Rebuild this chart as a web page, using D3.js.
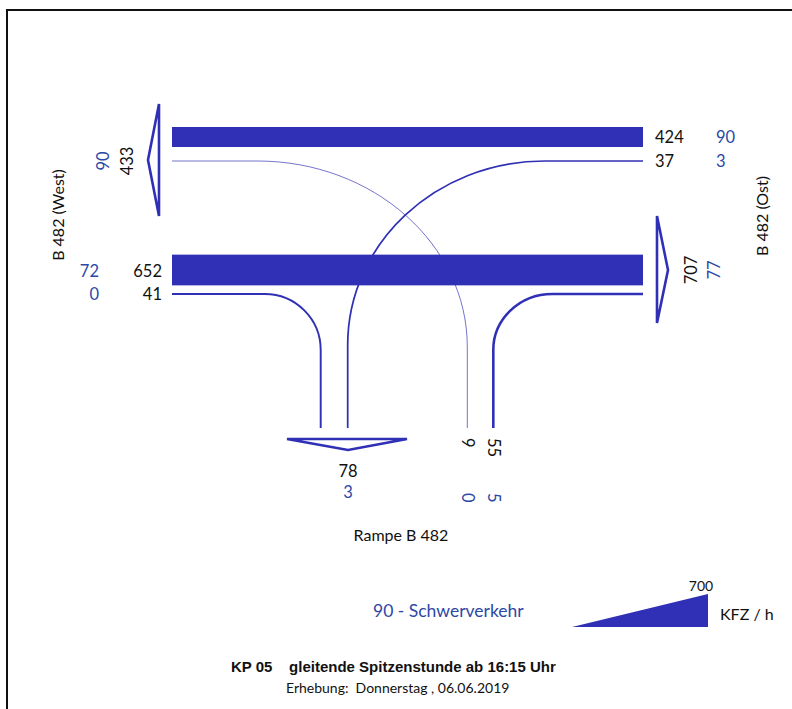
<!DOCTYPE html>
<html>
<head>
<meta charset="utf-8">
<script src="https://cdn.jsdelivr.net/npm/d3@7"></script>
<style>
  html, body { margin: 0; padding: 0; background: #fff; }
  svg { display: block; }
</style>
</head>
<body>
<div id="chart"></div>
<script>
// Knotenpunkt KP 05 – Verkehrsströme (Kfz/h) der gleitenden Spitzenstunde
const movements = ["Ost → West", "Ost → Rampe", "West → Ost", "West → Rampe", "Rampe → West", "Rampe → Ost"];
const movementKfz = [424, 37, 652, 41, 9, 55];
const movementSv  = [90, 3, 72, 0, 0, 5];

const exits    = ["B 482 (West)", "B 482 (Ost)", "Rampe B 482"];
const exitKfz  = [433, 707, 78];
const exitSv   = [90, 77, 3];

const legendValue = 700;
const legendUnit  = "KFZ / h";
const legendSvText = "90 - Schwerverkehr";
const titleText = "KP 05    gleitende Spitzenstunde ab 16:15 Uhr";
const subtitleText = "Erhebung:  Donnerstag , 06.06.2019";

const W = 792, H = 709;
const BLUE = "#3030b6";
const SVBLUE = "#2c48a6";
const BLACK = "#111";
const FONT = "Lato, 'Open Sans', sans-serif";

const svg = d3.select("#chart").append("svg")
  .attr("width", W).attr("height", H)
  .attr("font-family", FONT);

// frame
svg.append("rect")
  .attr("x", 7).attr("y", 10).attr("width", 820).attr("height", 740)
  .attr("fill", "none").attr("stroke", "#111").attr("stroke-width", 2);

// band thickness per vehicle
const thick = d3.scaleLinear().domain([0, legendValue]).range([0, 33]);

// road geometry
const xWest = 172, xEast = 643;
const yTopLane = 137, yTopTurn = 161;
const yBotLane = 270, yBotTurn = 294;
const yRampEnd = 428;
const xRamp = { "West → Rampe": 320.7, "Ost → Rampe": 347.7, "Rampe → West": 467.3, "Rampe → Ost": 493.3 };

// straight-through bands
const through = [
  { i: 0, yc: yTopLane },
  { i: 2, yc: yBotLane }
];

// turning streams: start, corner, end and corner radii
const turns = [
  { i: 1, p0: [xEast, yTopTurn], pc: [xRamp["Ost → Rampe"], yTopTurn], p1: [xRamp["Ost → Rampe"], yRampEnd], r0: 197, r1: 184 },
  { i: 3, p0: [xWest, yBotTurn], pc: [xRamp["West → Rampe"], yBotTurn], p1: [xRamp["West → Rampe"], yRampEnd], r0: 56, r1: 56 },
  { i: 4, p0: [xRamp["Rampe → West"], yRampEnd], pc: [xRamp["Rampe → West"], yTopTurn], p1: [xWest, yTopTurn], r0: 186, r1: 210 },
  { i: 5, p0: [xRamp["Rampe → Ost"], yRampEnd], pc: [xRamp["Rampe → Ost"], yBotTurn], p1: [xEast, yBotTurn], r0: 56, r1: 59 }
];

function toward(a, b, d) {
  const dx = b[0] - a[0], dy = b[1] - a[1];
  const L = Math.hypot(dx, dy);
  return [a[0] + dx / L * d, a[1] + dy / L * d];
}

function turnPath(t) {
  const k = 0.5523;
  const a = toward(t.pc, t.p0, t.r0);
  const b = toward(t.pc, t.p1, t.r1);
  const c1 = toward(a, t.pc, t.r0 * k);
  const c2 = toward(b, t.pc, t.r1 * k);
  const p = d3.path();
  p.moveTo(t.p0[0], t.p0[1]);
  p.lineTo(a[0], a[1]);
  p.bezierCurveTo(c1[0], c1[1], c2[0], c2[1], b[0], b[1]);
  p.lineTo(t.p1[0], t.p1[1]);
  return p.toString();
}

const g = svg.append("g");

g.selectAll("path.turn").data(turns).join("path")
  .attr("class", "turn")
  .attr("d", turnPath)
  .attr("fill", "none")
  .attr("stroke", BLUE)
  .attr("stroke-width", d => Math.max(thick(movementKfz[d.i]), 0.9))
  .attr("stroke-opacity", d => movementKfz[d.i] < 20 ? 0.75 : 1);

g.selectAll("rect.through").data(through).join("rect")
  .attr("class", "through")
  .attr("x", xWest)
  .attr("width", xEast - xWest)
  .attr("y", d => d.yc - thick(movementKfz[d.i]) / 2)
  .attr("height", d => thick(movementKfz[d.i]))
  .attr("fill", BLUE);

// exit arrows (outlined triangles)
const arrows = [
  { pts: [[159, 104], [148, 160], [159, 216]] },
  { pts: [[657, 216], [668, 270], [657, 323]] },
  { pts: [[287, 439], [348, 450], [407, 439]] }
];
svg.selectAll("path.arrow").data(arrows).join("path")
  .attr("class", "arrow")
  .attr("d", d => d3.line()(d.pts) + "Z")
  .attr("fill", "none")
  .attr("stroke", BLUE)
  .attr("stroke-width", 2.6)
  .attr("stroke-linejoin", "miter");

// labels
function label(x, y, txt, opts = {}) {
  const t = svg.append("text")
    .attr("x", x).attr("y", y)
    .attr("fill", opts.fill || BLACK)
    .attr("font-size", opts.size || 16.5)
    .attr("text-anchor", opts.anchor || "start")
    .text(txt);
  if (opts.rot) t.attr("transform", `rotate(${opts.rot},${x},${y})`);
  if (opts.dy) t.attr("dy", opts.dy);
  if (opts.weight) t.attr("font-weight", opts.weight);
  if (opts.family) t.attr("font-family", opts.family);
  return t;
}

// east approach
label(655, 143, movementKfz[0]);
label(716, 143, movementSv[0], { fill: SVBLUE });
label(655, 167, movementKfz[1]);
label(716, 167, movementSv[1], { fill: SVBLUE });

// west approach
label(162, 277, movementKfz[2], { anchor: "end" });
label(99, 277, movementSv[2], { anchor: "end", fill: SVBLUE });
label(162, 300, movementKfz[3], { anchor: "end" });
label(99, 300, movementSv[3], { anchor: "end", fill: SVBLUE });

// ramp approach (rotated)
label(xRamp["Rampe → West"], 438, movementKfz[4], { rot: 90, dy: "0.35em" });
label(xRamp["Rampe → Ost"], 438, movementKfz[5], { rot: 90, dy: "0.35em" });
label(xRamp["Rampe → West"], 493, movementSv[4], { rot: 90, dy: "0.35em", fill: SVBLUE });
label(xRamp["Rampe → Ost"], 493, movementSv[5], { rot: 90, dy: "0.35em", fill: SVBLUE });

// exits
label(127, 161, exitKfz[0], { rot: -90, anchor: "middle", dy: "0.35em" });
label(103, 161, exitSv[0], { rot: -90, anchor: "middle", dy: "0.35em", fill: SVBLUE });
label(691, 270, exitKfz[1], { rot: -90, anchor: "middle", dy: "0.35em" });
label(714, 270, exitSv[1], { rot: -90, anchor: "middle", dy: "0.35em", fill: SVBLUE });
label(348, 477, exitKfz[2], { anchor: "middle" });
label(348, 498, exitSv[2], { anchor: "middle", fill: SVBLUE });

// arm names
label(58, 215, exits[0], { rot: -90, anchor: "middle", dy: "0.35em", size: 16 });
label(762, 216, exits[1], { rot: -90, anchor: "middle", dy: "0.35em", size: 16 });
label(401, 541, exits[2], { anchor: "middle", size: 16 });

// legend wedge
const lx0 = 572, lx1 = 708, ly = 627;
svg.append("path")
  .attr("d", d3.line()([[lx0, ly], [lx1, ly], [lx1, ly - thick(legendValue)]]) + "Z")
  .attr("fill", BLUE);
label(701, 591, legendValue, { anchor: "middle", size: 14 });
label(720, 620, legendUnit, { size: 16 });
label(373, 617, legendSvText, { fill: SVBLUE, size: 17.5 });

// title
label(231, 672, titleText, { size: 15, weight: "bold", family: "'Liberation Sans', Arial, sans-serif" })
  .attr("xml:space", "preserve").style("white-space", "pre");
label(286, 693, subtitleText, { size: 14 }).style("white-space", "pre");
</script>
</body>
</html>
